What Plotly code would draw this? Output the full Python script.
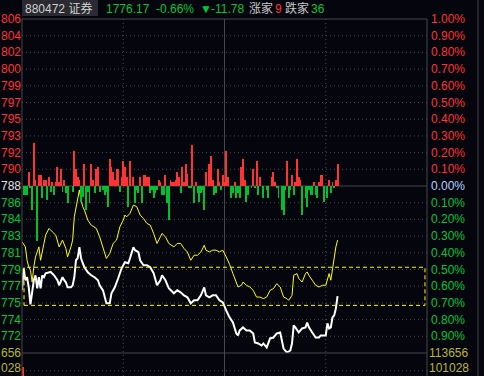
import plotly.graph_objects as go

# ---------------- data ----------------
prev_close = 1787.95
last_price = "1776.17"
pct_text = "-0.66%"
chg_text = "-11.78"
up_count = "9"
down_count = "36"
code_name = "880472 证券"

price_minutes = [0, 1, 2, 3, 4, 5, 6, 7, 8, 9, 10, 11, 12, 13, 14, 16, 17, 19, 20, 21, 22, 23, 24, 25, 26, 27, 29, 30,
                 31, 32, 33, 34, 35, 36, 37, 39, 41, 43, 45, 46, 48, 50, 52, 53, 55, 57, 59, 61, 63, 64, 66, 67, 69,
                 70, 72, 74, 76, 78, 80, 82, 83, 85, 87, 90, 92, 94, 96, 98, 100, 102, 104, 106, 108, 109, 111, 113,
                 115, 117, 119, 121, 123, 125, 127, 128, 129, 131, 133, 135, 137, 138, 140, 142, 143, 145, 147, 149,
                 151, 153, 154, 155, 157, 159, 160, 161, 162, 164, 166, 168, 169, 170, 172, 174, 176, 177, 180, 181,
                 182, 183, 184, 185, 186, 187]
price_values = [1776.78, 1779.14, 1777.86, 1778.18, 1777.10, 1775.28, 1776.57, 1777.86, 1778.39, 1777.00, 1778.18,
                1777.00, 1778.39, 1778.18, 1778.61, 1778.71, 1778.75, 1778.39, 1778.18, 1777.86, 1777.32, 1777.86,
                1778.18, 1777.86, 1777.64, 1777.10, 1777.10, 1777.32, 1778.18, 1780.00, 1780.22, 1781.40, 1780.22,
                1779.68, 1779.25, 1778.71, 1778.39, 1778.18, 1777.86, 1777.32, 1776.78, 1775.39, 1775.39, 1776.46,
                1777.10, 1778.07, 1779.14, 1779.79, 1779.68, 1780.22, 1781.40, 1781.08, 1780.86, 1780.00, 1779.47,
                1779.47, 1779.25, 1778.61, 1777.32, 1777.86, 1778.39, 1777.86, 1777.00, 1776.46, 1776.78, 1776.57,
                1776.24, 1776.03, 1775.39, 1775.71, 1775.71, 1776.24, 1777.10, 1776.24, 1776.03, 1776.24, 1776.24,
                1775.71, 1775.49, 1774.63, 1773.88, 1773.34, 1772.16, 1771.95, 1772.49, 1772.81, 1772.49, 1772.49,
                1772.16, 1771.20, 1771.09, 1770.87, 1771.09, 1770.66, 1771.63, 1771.73, 1772.16, 1772.27, 1771.41,
                1770.55, 1770.12, 1770.34, 1771.09, 1773.02, 1772.81, 1772.27, 1772.70, 1772.81, 1773.34, 1772.81,
                1772.27, 1771.73, 1771.73, 1771.95, 1771.95, 1773.24, 1772.70, 1772.81, 1773.88, 1774.10, 1774.85,
                1776.17]

avg_minutes = [0, 2, 3, 4, 5, 6, 7, 8, 9, 10, 11, 12, 13, 14, 16, 18, 20, 22, 24, 26, 27, 29, 30, 31, 32, 33, 34, 35,
               36, 37, 39, 41, 44, 46, 48, 50, 52, 54, 56, 58, 60, 61, 62, 64, 66, 68, 70, 72, 74, 76, 78, 80, 82, 83,
               85, 87, 90, 92, 94, 96, 98, 100, 102, 104, 106, 108, 109, 111, 113, 115, 117, 119, 121, 123, 125, 127,
               128, 130, 131, 133, 135, 137, 139, 141, 143, 145, 147, 149, 151, 153, 155, 157, 158, 160, 161, 163,
               164, 166, 168, 169, 170, 172, 174, 176, 178, 180, 181, 182, 183, 184, 185, 186, 187]
avg_values = [1781.97, 1781.43, 1780.00, 1779.28, 1778.93, 1777.67, 1779.28, 1780.36, 1780.89, 1781.43, 1780.00,
              1781.08, 1781.80, 1782.69, 1783.41, 1783.04, 1782.69, 1781.43, 1782.15, 1781.26, 1780.36, 1781.43,
              1782.15, 1784.65, 1785.73, 1786.63, 1787.52, 1786.45, 1785.73, 1785.37, 1784.30, 1783.76, 1783.41,
              1782.51, 1781.43, 1780.19, 1780.72, 1781.80, 1782.15, 1783.58, 1784.30, 1784.84, 1784.65, 1785.02,
              1785.91, 1785.73, 1784.84, 1784.48, 1783.94, 1783.76, 1782.87, 1781.80, 1782.51, 1782.87, 1782.51,
              1781.80, 1781.43, 1781.80, 1781.80, 1781.26, 1780.89, 1780.00, 1780.54, 1780.54, 1780.89, 1781.61,
              1781.08, 1780.89, 1781.08, 1781.08, 1780.89, 1781.08, 1780.36, 1779.57, 1778.57, 1777.50, 1777.14,
              1777.32, 1777.67, 1777.32, 1777.14, 1776.78, 1776.06, 1776.06, 1775.89, 1776.06, 1776.78, 1776.96,
              1777.50, 1777.14, 1776.06, 1775.89, 1775.71, 1776.24, 1778.39, 1778.57, 1778.04, 1777.67, 1778.57,
              1778.75, 1778.39, 1777.86, 1777.32, 1777.14, 1777.32, 1777.32, 1778.04, 1778.57, 1777.86, 1779.14,
              1780.00, 1781.43, 1782.15]

red_minutes = [4, 7, 8, 10, 11, 13, 14, 16, 18, 20, 21, 22, 23, 25, 31, 32, 33, 34, 37, 41, 42, 44, 45, 52, 53, 54,
               55, 56, 57, 59, 60, 61, 62, 64, 66, 70, 72, 73, 74, 75, 81, 82, 85, 88, 89, 90, 91, 92, 93, 95, 96, 97,
               98, 101, 103, 109, 111, 112, 113, 116, 117, 119, 120, 121, 122, 126, 130, 131, 132, 137, 139, 141,
               148, 149, 150, 157, 160, 162, 163, 164, 165, 173, 176, 177, 178, 182, 184, 186, 187]
red_values = [14, 43, 6, 11, 11, 6, 6, 9, 4, 4, 19, 4, 17, 6, 35, 17, 9, 6, 22, 22, 6, 17, 19, 27, 19, 14,
              6, 17, 17, 9, 25, 19, 9, 25, 9, 9, 11, 11, 9, 9, 6, 4, 11, 6, 4, 4, 6, 14, 9, 19, 4, 22,
              12, 41, 4, 14, 22, 30, 6, 17, 4, 11, 4, 35, 9, 4, 19, 27, 6, 17, 25, 9,
              9, 14, 4, 25, 11, 4, 27, 9, 6, 4, 4, 11, 11, 6, 4, 6, 22]
green_minutes = [1, 2, 3, 5, 6, 9, 12, 15, 17, 19, 24, 26, 27, 30, 35, 36, 38, 39, 40, 43, 46, 48, 49, 50, 51, 58,
                 63, 67, 68, 69, 71, 76, 77, 78, 79, 80, 83, 84, 86, 87, 94, 99, 100, 102, 104, 105, 106, 107, 108,
                 114, 115, 118, 124, 125, 127, 128, 129, 133, 134, 136, 138, 140, 143, 145, 146, 151, 152, 154, 155,
                 156, 158, 159, 161, 166, 168, 169, 170, 171, 172, 174, 175, 179, 181, 183, 185]
green_values = [-9, -9, -9, -2, -24, -55, -12, -14, -6, -9, -6, -7, -17, -6, -16, -11, -24, -6, -17, -7, -6, -4, -9,
                -6, -21, -6, -21, -17, -4, -7, -17, -7, -4, -12, -7, -4, -9, -9, -17, -34, -7, -2, -2, -17, -7, -16,
                -7, -4, -24, -9, -7, -4, -12, -7, -12, -7, -12, -16, -9, -2, -2, -9, -12, -4, -12, -2, -12, -24,
                -29, -4, -12, -4, -9, -29, -12, -21, -4, -9, -9, -9, -12, -16, -12, -7, -2]

vol_minutes = [0]
vol_values = [103400]

box_levels = [1779.25, 1775.17]
box_minutes = [1.2, 238.8]

grid_steps = [10, 9, 8, 7, 6, 5, 4, 3, 2, 1, 0, -1, -2, -3, -4, -5, -6, -7, -8, -9]
# price labels as shown (leading "1" of 1806 ... 1772 hidden by the narrow left margin)
left_labels = ["806", "804", "802", "800", "799", "797", "795", "793", "792", "790", "788",
               "786", "784", "783", "781", "779", "777", "775", "774", "772"]
right_labels = ["1.00%", "0.90%", "0.80%", "0.70%", "0.60%", "0.50%", "0.40%", "0.30%", "0.20%", "0.10%", "0.00%",
                "0.10%", "0.20%", "0.30%", "0.40%", "0.50%", "0.60%", "0.70%", "0.80%", "0.90%"]
vol_tick_values = [113656, 101028]
vol_tick_labels = ["113656", "101028"]
vol_left_labels = ["656", "028"]
vol_label_shift = [0, 3]
vol_range = [97250, 113656]

time_lines = [60, 120, 180]

# ---------------- layout helpers ----------------
W, H = 484, 376
PL, PR, PT, PB = 22, 427, 19, 376
SEP = 353
pw, ph = PR - PL, PB - PT
dlo = (PB - SEP) / ph

BG = "#05050d"
RED = "#ff3333"
GREEN = "#00c63c"
BARGREEN = "#00c030"
GRID = "#4a4a50"
SOLID = "#46464c"
OLIVE = "#b8b830"
FONT = "Liberation Sans, Arial, Noto Sans CJK SC, sans-serif"


def px_x(px):
    return (px - PL) / pw


def px_y(py):
    return (PB - py) / ph


fig = go.Figure()

fig.add_trace(go.Bar(x=red_minutes, y=red_values, yaxis="y3", width=0.55,
                     marker=dict(color=RED, line=dict(width=0))))
fig.add_trace(go.Bar(x=green_minutes, y=green_values, yaxis="y3", width=0.55,
                     marker=dict(color=BARGREEN, line=dict(width=0))))
fig.add_trace(go.Bar(x=vol_minutes, y=vol_values, yaxis="y2", width=1.4, offset=0,
                     marker=dict(color=RED, line=dict(width=0))))
fig.add_trace(go.Scatter(x=avg_minutes, y=avg_values, mode="lines",
                         line=dict(color="#ffff00", width=1)))
fig.add_trace(go.Scatter(x=price_minutes, y=price_values, mode="lines",
                         line=dict(color="#ffffff", width=2)))

shapes = []
for s in grid_steps:
    lvl = prev_close * (1 + s / 1000)
    if s == 10:
        continue
    shapes.append(dict(type="line", xref="paper", yref="y", x0=0, x1=1, y0=lvl, y1=lvl,
                       line=dict(color=SOLID if s == 0 else GRID, width=1,
                                 dash="solid" if s == 0 else "1px,3px"), layer="below"))
shapes.append(dict(type="line", xref="paper", yref="y2", x0=0, x1=1, y0=vol_tick_values[1], y1=vol_tick_values[1],
                   line=dict(color=GRID, width=1, dash="1px,3px"), layer="below"))
for m in time_lines:
    shapes.append(dict(type="line", xref="x", yref="paper", x0=m, x1=m, y0=0, y1=1,
                       line=dict(color=SOLID if m == 120 else GRID, width=1,
                                 dash="solid" if m == 120 else "1px,3px"), layer="below"))
shapes.append(dict(type="line", xref="paper", yref="paper", x0=0, x1=1, y0=1, y1=1, line=dict(color=SOLID, width=1)))
shapes.append(dict(type="line", xref="paper", yref="paper", x0=0, x1=1, y0=dlo, y1=dlo, line=dict(color=SOLID, width=1)))
shapes.append(dict(type="line", xref="paper", yref="paper", x0=0, x1=0, y0=0, y1=1, line=dict(color=SOLID, width=1)))
shapes.append(dict(type="line", xref="paper", yref="paper", x0=1, x1=1, y0=0, y1=1, line=dict(color=SOLID, width=1)))
shapes.append(dict(type="line", xref="paper", yref="paper", x0=px_x(478), x1=px_x(478), y0=px_y(H), y1=px_y(0),
                   line=dict(color=SOLID, width=1)))
shapes.append(dict(type="rect", xref="x", yref="y", x0=box_minutes[0], x1=box_minutes[1],
                   y0=box_levels[1], y1=box_levels[0],
                   line=dict(color="#ffff00", width=1, dash="4px,3px")))
shapes.append(dict(type="rect", xref="paper", yref="paper", x0=px_x(22), x1=px_x(98), y0=px_y(16), y1=px_y(0),
                   fillcolor="#2a2a30", line=dict(width=0)))

ann = []
for s, ll, rl in zip(grid_steps, left_labels, right_labels):
    lvl = prev_close * (1 + s / 1000)
    col = RED if s > 0 else (GREEN if s < 0 else None)
    ann.append(dict(xref="paper", yref="y", x=0, y=lvl, xanchor="right", yanchor="middle", xshift=-1,
                    borderpad=0, borderwidth=0,
                    text=ll, showarrow=False, font=dict(size=12, color=col or "#e0e0e0", family=FONT)))
    ann.append(dict(xref="paper", yref="y", x=1, y=lvl, xanchor="left", yanchor="middle", xshift=2,
                    text=rl, showarrow=False, font=dict(size=12, color=col or "#b4d2ff", family=FONT)))
for v, tl, tr, ys in zip(vol_tick_values, vol_left_labels, vol_tick_labels, vol_label_shift):
    ann.append(dict(xref="paper", yref="y2", x=0, y=v, xanchor="right", yanchor="middle", xshift=-1, yshift=ys,
                    borderpad=0, borderwidth=0,
                    text=tl, showarrow=False, font=dict(size=12, color=OLIVE, family=FONT)))
    ann.append(dict(xref="paper", yref="y2", x=1, y=v, xanchor="left", yanchor="middle", xshift=2, yshift=ys,
                    borderpad=0, borderwidth=0,
                    text=tr, showarrow=False, font=dict(size=12, color=OLIVE, family=FONT)))

header = [
    (23, code_name, "#d0d0d0"),
    (104, last_price, GREEN),
    (154, pct_text, GREEN),
    (198, "▼", GREEN),
    (209, chg_text, GREEN),
    (247, "涨家", "#c8c8c8"),
    (273, up_count, RED),
    (283, "跌家", "#c8c8c8"),
    (309, down_count, GREEN),
]
for hx, txt, col in header:
    ann.append(dict(xref="paper", yref="paper", x=px_x(hx), y=px_y(8.5), xanchor="left", yanchor="middle",
                    text=txt, showarrow=False, font=dict(size=12, color=col, family=FONT)))

fig.update_layout(
    width=W, height=H,
    margin=dict(l=PL, r=W - PR, t=PT, b=H - PB, pad=0),
    paper_bgcolor=BG, plot_bgcolor=BG,
    showlegend=False, barmode="overlay", bargap=0,
    xaxis=dict(range=[0, 240], visible=False, fixedrange=True),
    yaxis=dict(domain=[dlo, 1], range=[prev_close * 0.99, prev_close * 1.01], visible=False),
    yaxis2=dict(domain=[0, dlo], range=vol_range, visible=False),
    yaxis3=dict(overlaying="y", range=[-167, 167], visible=False),
    shapes=shapes, annotations=ann,
)

fig.write_html("out.html")
